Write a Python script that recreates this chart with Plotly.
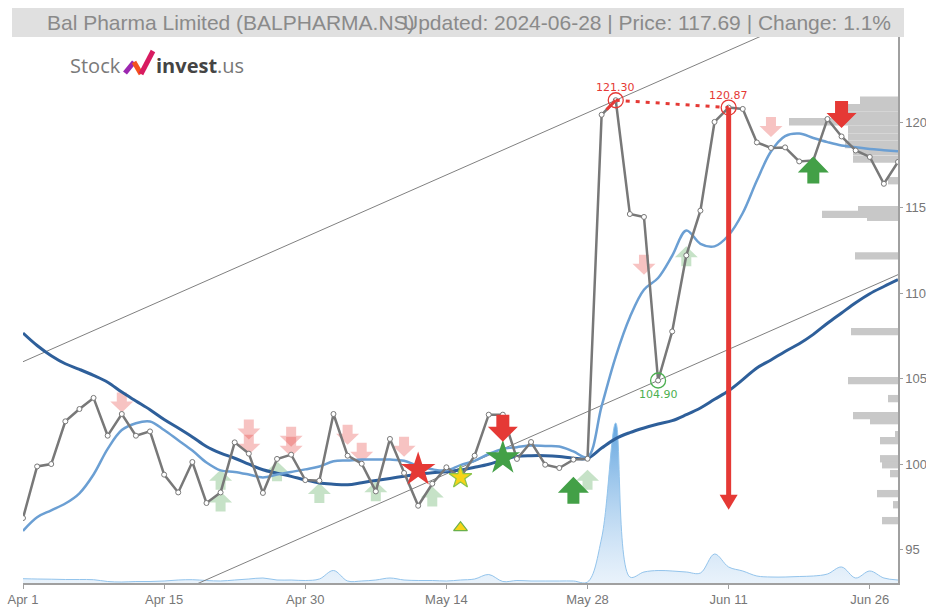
import plotly.graph_objects as go

# ---------------- data ----------------
tick_idx = [0, 10, 20, 30, 40, 50, 60]
tick_text = ["Apr 1", "Apr 15", "Apr 30", "May 14", "May 28", "Jun 11", "Jun 26"]

close = [96.85, 99.87, 100.01, 102.51, 103.23, 103.88, 101.67, 102.94, 101.67, 101.92,
         99.39, 98.35, 100.13, 97.73, 98.35, 101.28, 100.62, 98.32, 100.31, 100.56,
         99.07, 99.04, 102.94, 100.50, 100.03, 98.41, 101.48, 99.49, 97.57, 98.86,
         99.82, 99.23, 100.50, 102.90, 102.90, 100.31, 101.30, 99.97, 99.78, 100.27,
         100.32, 120.45, 121.30, 114.64, 114.47, 104.90, 107.77, 112.22, 114.84, 120.03,
         120.87, 120.79, 118.83, 118.51, 118.54, 117.72, 117.78, 120.20, 119.18, 118.36,
         117.98, 116.41, 117.69]

ma_short = [96.1, 96.9, 97.3, 97.7, 98.3, 99.4, 100.9, 102.0, 102.4, 102.5,
            102.0, 101.4, 100.8, 100.1, 99.64, 99.55, 99.4, 99.23, 99.4, 99.55,
            99.7, 99.87, 100.17, 100.22, 100.27, 100.27, 100.27, 100.2, 99.9, 99.7,
            99.64, 99.95, 100.2, 100.6, 100.9, 101.0, 101.09, 101.07, 101.04, 100.75,
            100.42, 103.4, 106.3, 108.6, 110.21, 110.9, 112.2, 113.68, 112.9, 112.75,
            113.4, 114.7, 116.6, 118.3, 119.2, 119.35, 119.09, 118.85, 118.65, 118.55,
            118.45, 118.38, 118.31]

ma_long = [107.68, 106.95, 106.35, 105.88, 105.55, 105.2, 104.8, 104.22, 103.7, 103.19,
           102.62, 102.12, 101.6, 101.04, 100.65, 100.35, 100.0, 99.68, 99.48, 99.29,
           99.08, 98.90, 98.83, 98.80, 98.92, 99.05, 99.17, 99.3, 99.42, 99.5,
           99.56, 99.66, 99.82, 100.0, 100.25, 100.46, 100.5, 100.5, 100.45, 100.35,
           100.35, 100.95, 101.5, 101.85, 102.12, 102.35, 102.55, 102.9, 103.29, 103.8,
           104.3, 104.95, 105.63, 106.1, 106.6, 107.05, 107.6, 108.25, 108.85, 109.45,
           109.98, 110.4, 110.8]

volume = [10750, 10000, 9500, 8750, 8750, 8250, 3750, 2500, 3750, 3750,
          5000, 7500, 8250, 6250, 5000, 7500, 10000, 12500, 7500, 7500,
          6250, 10000, 31250, 5000, 5000, 7500, 12500, 7500, 6250, 6250,
          5000, 7500, 10000, 21250, 3750, 6250, 5000, 5000, 5000, 5000,
          2500, 112500, 400000, 15000, 27500, 31250, 30000, 27500, 25000, 72500,
          40000, 30000, 17500, 15000, 15000, 16250, 17500, 22500, 40000, 12500,
          30000, 12500, 7500]

profile_price = [121.30, 120.86, 120.43, 120.04, 119.60, 119.15, 118.70, 118.30, 117.85, 116.59,
                 114.89, 114.62, 114.45, 112.19, 107.76, 104.89, 103.84, 102.84, 102.55, 101.73,
                 101.38, 100.32, 99.97, 99.45, 98.28, 97.63, 96.70]
profile_vol = [380, 510, 510, 1090, 500, 500, 530, 450, 450, 100,
               400, 760, 310, 430, 470, 500, 100, 450, 280, 30,
               180, 180, 160, 80, 210, 50, 160]

channel_slope = 0.3643
upper_anchor = (42, 121.30)
lower_anchor = (45, 104.90)

high_idx, high_val = 42, 121.30
high2_idx, high2_val = 50, 120.87
low_idx, low_val = 45, 104.90
target_val = 97.34

sell_faded_x = [7, 16, 16, 19, 19, 23, 24, 27, 44, 53]
sell_faded_y = [103.02, 101.44, 100.56, 101.03, 100.44, 101.14, 100.09, 100.44, 111.09, 119.15]
buy_faded_x = [14, 14, 18, 21, 25, 29, 40, 47]
buy_faded_y = [99.68, 98.41, 100.17, 98.90, 99.0, 98.69, 99.68, 112.75]
sell_x = [34, 58]
sell_y = [101.32, 119.68]
buy_x = [39, 56]
buy_y = [99.27, 118.01]

star_red = (28, 99.68)
star_yellow = (31, 99.23)
star_green = (34, 100.37)
tri_yellow = (31, 96.29)

# ---------------- geometry/style ----------------
W, H = 926, 608
ML, MR, MT, MB = 23, 28, 37, 25
PW, PH = W - ML - MR, H - MT - MB
XR = [0, 62]
YR = [93.05, 125.0]
VOL_PER_PX = 2500
PROF_PER_PX = 10
UX = (XR[1] - XR[0]) / PW
UY = (YR[1] - YR[0]) / PH

RED = "#e53935"
GREEN = "#43a047"
TICKFONT = dict(family="Liberation Sans, Arial, sans-serif", size=13, color="#777777")
TITLEFONT = dict(family="Liberation Sans, Arial, sans-serif", size=21, color="#8a8a8a")


def arrow_path(x, ytip, up, w, hh, s, hs):
    sg = -1 if up else 1
    pts = [(0, 0), (-w / 2, hh), (-s / 2, hh), (-s / 2, hh + hs), (s / 2, hh + hs), (s / 2, hh), (w / 2, hh)]
    c = [(x + dx * UX, ytip + sg * dy * UY) for dx, dy in pts]
    return "M" + " L".join(f"{a:.4f},{b:.4f}" for a, b in c) + " Z"


fig = go.Figure()
xs = list(range(len(close)))

# volume (main y axis)
fig.add_trace(go.Scatter(
    x=xs, y=volume, mode="lines", line=dict(color="#93c4ec", width=1, shape="spline"),
    fill="tozeroy",
    fillgradient=dict(type="vertical",
                      colorscale=[[0, "rgba(215,232,248,0.55)"], [1, "rgba(90,160,222,0.95)"]]),
    yaxis="y", hoverinfo="skip", showlegend=False))

# channel lines
def chan(anchor):
    return [anchor[1] + channel_slope * (i - anchor[0]) for i in xs]

for a in (upper_anchor, lower_anchor):
    fig.add_trace(go.Scatter(x=xs, y=chan(a), mode="lines", line=dict(color="#808080", width=1),
                             yaxis="y2", showlegend=False, hoverinfo="skip"))

fig.add_trace(go.Scatter(x=xs, y=ma_long, mode="lines", line=dict(color="#2e5f9a", width=3, shape="spline"),
                         yaxis="y2", showlegend=False))
fig.add_trace(go.Scatter(x=xs, y=ma_short, mode="lines", line=dict(color="#6b9fd3", width=2.5, shape="spline"),
                         yaxis="y2", showlegend=False))

# price line
fig.add_trace(go.Scatter(x=xs, y=close, mode="lines+markers",
                         line=dict(color="#787878", width=2.5),
                         marker=dict(size=5, color="white", line=dict(color="#787878", width=1)),
                         yaxis="y2", showlegend=False))

# red dotted between highs and red bit of the breakout segment
fig.add_trace(go.Scatter(x=[high_idx, high2_idx], y=[high_val, high2_val], mode="lines",
                         line=dict(color=RED, width=3, dash="4px,6px"), yaxis="y2", showlegend=False))
f = 0.35
fig.add_trace(go.Scatter(x=[high_idx - 1 + f, high_idx],
                         y=[close[high_idx - 1] + f * (close[high_idx] - close[high_idx - 1]), high_val],
                         mode="lines", line=dict(color=RED, width=3), yaxis="y2", showlegend=False))

# circles
fig.add_trace(go.Scatter(x=[high_idx, high2_idx], y=[high_val, high2_val], mode="markers",
                         marker=dict(symbol="circle-open", size=15, color=RED, line=dict(width=1.3)),
                         yaxis="y2", showlegend=False))
fig.add_trace(go.Scatter(x=[low_idx], y=[low_val], mode="markers",
                         marker=dict(symbol="circle-open", size=15, color="#4caf50", line=dict(width=1.3)),
                         yaxis="y2", showlegend=False))

# stars / triangle
fig.add_trace(go.Scatter(x=[star_red[0], star_green[0]], y=[star_red[1], star_green[1]], mode="markers",
                         marker=dict(symbol="star", size=26, color=[RED, GREEN], line=dict(width=0)),
                         yaxis="y2", showlegend=False))
fig.add_trace(go.Scatter(x=[star_yellow[0]], y=[star_yellow[1]], mode="markers",
                         marker=dict(symbol="star", size=17, color="#f7d417", line=dict(color="#8bc34a", width=1.2)),
                         yaxis="y2", showlegend=False))
fig.add_trace(go.Scatter(x=[tri_yellow[0]], y=[tri_yellow[1]], mode="markers",
                         marker=dict(symbol="triangle-up", size=12, color="#f7d417", line=dict(color="#6ab04c", width=1.2)),
                         yaxis="y2", showlegend=False))

shapes = []
# title bar
shapes.append(dict(type="rect", xref="paper", yref="paper", x0=(12 - ML) / PW, x1=(904 - ML) / PW,
                   y0=1.0, y1=1 + (MT - 8) / PH, fillcolor="#e0e0e0", line=dict(width=0), layer="below"))
# volume profile
for p, v in zip(profile_price, profile_vol):
    shapes.append(dict(type="rect", xref="paper", yref="y2", x0=1 - v / PROF_PER_PX / PW, x1=1,
                       y0=p - 0.215, y1=p + 0.215, fillcolor="#c8c8c8", line=dict(width=0), layer="below"))
# faded arrows
for x, y in zip(sell_faded_x, sell_faded_y):
    shapes.append(dict(type="path", xref="x", yref="y2", path=arrow_path(x, y, False, 23, 11, 10, 9),
                       fillcolor="rgba(229,57,53,0.3)", line=dict(width=0), layer="below"))
for x, y in zip(buy_faded_x, buy_faded_y):
    shapes.append(dict(type="path", xref="x", yref="y2", path=arrow_path(x, y, True, 23, 11, 10, 9),
                       fillcolor="rgba(67,160,71,0.3)", line=dict(width=0), layer="below"))
# strong arrows
for x, y in zip(sell_x, sell_y):
    shapes.append(dict(type="path", xref="x", yref="y2", path=arrow_path(x, y, False, 30, 15, 13, 12),
                       fillcolor=RED, line=dict(width=0), layer="above"))
for x, y in zip(buy_x, buy_y):
    shapes.append(dict(type="path", xref="x", yref="y2", path=arrow_path(x, y, True, 31, 16, 12, 11),
                       fillcolor=GREEN, line=dict(width=0), layer="above"))
# big target arrow
head_h = 15
shapes.append(dict(type="line", xref="x", yref="y2", x0=high2_idx, x1=high2_idx,
                   y0=high2_val, y1=target_val + head_h * UY * 0.9, line=dict(color=RED, width=5), layer="above"))
shapes.append(dict(type="path", xref="x", yref="y2", path=arrow_path(high2_idx, target_val, False, 18, head_h, 0, 0),
                   fillcolor=RED, line=dict(width=0), layer="above"))
# logo mark
def lp(px, py):
    return (px - ML) / PW, (H - MB - py) / PH

logo_segs = [((125, 73), (134, 62), "#9c27b0"), ((134, 62), (141, 74), "#f4511e"), ((141, 74), (153, 51), "#d81b60")]
for (a, b, col) in logo_segs:
    x0, y0 = lp(*a)
    x1, y1 = lp(*b)
    shapes.append(dict(type="line", xref="paper", yref="paper", x0=x0, y0=y0, x1=x1, y1=y1,
                       line=dict(color=col, width=5)))

annotations = []
tx, ty = lp(45, 22)
annotations.append(dict(xref="paper", yref="paper", x=tx, y=ty, xanchor="left", yanchor="middle",
                        text="Bal Pharma Limited (BALPHARMA.NS)", showarrow=False, font=TITLEFONT))
tx, ty = lp(893, 22)
annotations.append(dict(xref="paper", yref="paper", x=tx, y=ty, xanchor="right", yanchor="middle",
                        text="Updated: 2024-06-28 | Price: 117.69 | Change: 1.1%", showarrow=False, font=TITLEFONT))
tx, ty = lp(68, 65)
annotations.append(dict(xref="paper", yref="paper", x=tx, y=ty, xanchor="left", yanchor="middle",
                        text="Stock", showarrow=False, font=dict(family="Open Sans", size=20, color="#7a7a7a")))
tx, ty = lp(154, 65)
annotations.append(dict(xref="paper", yref="paper", x=tx, y=ty, xanchor="left", yanchor="middle",
                        text="<b>invest</b><span style='color:#777'>.us</span>", showarrow=False,
                        font=dict(family="Open Sans", size=20, color="#444444")))
# price labels
lab_font = dict(family="DejaVu Sans", size=11)
annotations.append(dict(x=high_idx, y=high_val, xref="x", yref="y2", text=f"{high_val:.2f}", showarrow=False,
                        yshift=13, font=dict(color=RED, **lab_font)))
annotations.append(dict(x=high2_idx, y=high2_val, xref="x", yref="y2", text=f"{high2_val:.2f}", showarrow=False,
                        yshift=12, font=dict(color=RED, **lab_font)))
annotations.append(dict(x=low_idx, y=low_val, xref="x", yref="y2", text=f"{low_val:.2f}", showarrow=False,
                        yshift=-14, font=dict(color="#4caf50", **lab_font)))

fig.update_layout(
    width=W, height=H, margin=dict(l=ML, r=MR, t=MT, b=MB, autoexpand=False),
    paper_bgcolor="white", plot_bgcolor="white", showlegend=False,
    xaxis=dict(range=XR, tickvals=tick_idx, ticktext=tick_text, showgrid=False, zeroline=False,
               showline=True, linecolor="#a0a0a0", linewidth=1.5, ticks="outside", ticklen=4, tickcolor="#a0a0a0",
               tickfont=TICKFONT, automargin=False),
    yaxis=dict(range=[0, PH * VOL_PER_PX], visible=False, fixedrange=True, automargin=False),
    yaxis2=dict(range=YR, overlaying="y", side="right", anchor="x", tickvals=[95, 100, 105, 110, 115, 120],
                showgrid=False, zeroline=False, showline=True, linecolor="#a0a0a0", linewidth=1.5,
                ticks="outside", ticklen=3, tickcolor="#a0a0a0", tickfont=TICKFONT, automargin=False),
    shapes=shapes, annotations=annotations,
)

fig.write_html("out.html", config={"displayModeBar": False},
               post_script="document.body.style.margin='0px';document.body.style.overflow='hidden';")
